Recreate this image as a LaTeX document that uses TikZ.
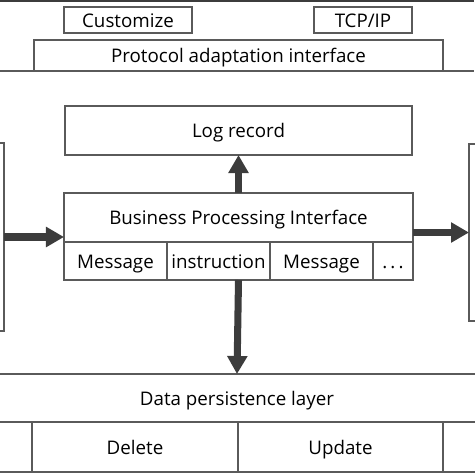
\documentclass[tikz,border=0pt]{standalone}
\usepackage{fontspec}
\setmainfont{Open Sans}
\usepackage{xcolor}
\usetikzlibrary{arrows.meta,positioning,calc}
\definecolor{edgegray}{HTML}{5A5A5A}
\definecolor{arrowgray}{HTML}{3C3C3C}

\begin{document}
\begin{tikzpicture}[x=0.03cm,y=-0.03cm,
  box/.style={draw=edgegray,line width=1.3pt,inner sep=0pt,outer sep=0pt,
    text height=13pt,text depth=1pt,font=\fontsize{16}{19}\selectfont},
  fat/.style={arrowgray,line width=6pt,-{Triangle[length=0.54cm,width=0.58cm]}}]
  \useasboundingbox (0,0) rectangle (474,474);
  \draw[arrowgray,line width=2pt] (0,1) -- (474,1);
  \node[box,minimum width=128*0.03cm,minimum height=26*0.03cm] (cust) at (128,20) {Customize};
  \node[box,minimum width=98*0.03cm,minimum height=26*0.03cm] (tcp) at (363,20) {TCP/IP};
  \node[box,minimum width=409*0.03cm,minimum height=31*0.03cm] (proto) at (238.5,55.5) {Protocol adaptation interface};
  \draw[edgegray,line width=1.3pt] (0,71) -- (474,71);
  \node[box,minimum width=347*0.03cm,minimum height=49*0.03cm] (log) at (238.5,130.5) {Log record};
  \node[box,minimum width=349*0.03cm,minimum height=49*0.03cm] (bpi) at (238.5,217.5) {Business Processing Interface};
  \node[box,minimum width=103*0.03cm,minimum height=38*0.03cm,anchor=north west] (msgA) at (bpi.south west) {Message};
  \node[box,minimum width=103*0.03cm,minimum height=38*0.03cm,right=0pt of msgA] (instr) {instruction};
  \node[box,minimum width=103*0.03cm,minimum height=38*0.03cm,right=0pt of instr] (msgB) {Message};
  \node[box,minimum width=40*0.03cm,minimum height=38*0.03cm,right=0pt of msgB] (more) {.\,.\,.};
  \node[box,minimum width=9*0.03cm,minimum height=188*0.03cm] (lbox) at (-0.5,237) {};
  \node[box,minimum width=12*0.03cm,minimum height=177*0.03cm] (rbox) at (475,232.5) {};
  \node[box,minimum width=490*0.03cm,minimum height=48*0.03cm] (data) at (237,398) {Data persistence layer};
  \node[box,minimum width=48*0.03cm,minimum height=50*0.03cm,anchor=north east] (cellA) at (32,422) {};
  \node[box,minimum width=206*0.03cm,minimum height=50*0.03cm,right=0pt of cellA] (del) {Delete};
  \node[box,minimum width=205*0.03cm,minimum height=50*0.03cm,right=0pt of del] (upd) {Update};
  \node[box,minimum width=48*0.03cm,minimum height=50*0.03cm,right=0pt of upd] (cellB) {};
  \draw[fat] (bpi.north) -- (log.south);
  \draw[fat] (lbox.east) -- (lbox.east -| bpi.west);
  \draw[fat] (bpi.east |- rbox.west) -- (rbox.west);
  \draw[fat] (bpi.center |- instr.south) -- (data.north);
\end{tikzpicture}
\end{document}
